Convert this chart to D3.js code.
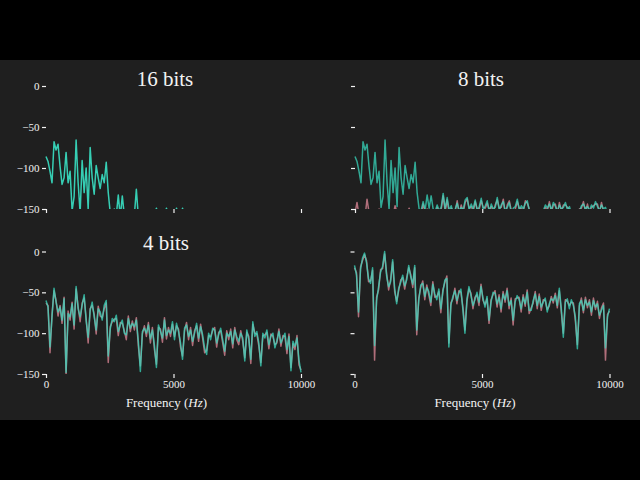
<!DOCTYPE html>
<html><head><meta charset="utf-8">
<script src="https://cdn.jsdelivr.net/npm/d3@7"></script>
<style>html,body{margin:0;background:#000;} svg{display:block}</style>
</head><body>
<script>
// ---- data ----
const maxFreq = 10000;
const binCount = 128;
const xTicks = [0, 5000, 10000];
const yTicks = [0, -50, -100, -150];
const panelTitles = ["16 bits", "8 bits", "4 bits", ""];
const axisLabel = "Frequency";
const axisUnit = "Hz";

const teal16 = [
-86,-92,-104,-118,-68,-78,-71,-98,-120,-112,-81,-118,-104,-152,-135,-66,
-118,-155,-91,-130,-100,-150,-75,-112,-132,-97,-112,-125,-108,-118,-93,-130,
-155,-160,-150,-158,-133,-160,-134,-158,-165,-160,-170,-160,-158,-126,-160,-165,
-170,-168,-172,-165,-170,-160,-158,-149,-162,-170,-165,-160,-149,-162,-166,-170,
-164,-149,-160,-166,-149,-162,-170,-175,-168,-172,-170,-175,-168,-172,-176,-170,
-172,-175,-170,-178,-174,-170,-176,-172,-178,-175,-180,-174,-176,-178,-172,-176,
-178,-174,-180,-176,-172,-178,-175,-180,-176,-178,-174,-180,-176,-182,-178,-175,
-180,-176,-182,-178,-175,-180,-178,-182,-176,-180,-178,-184,-180,-178,-182,-180];

const teal8 = [
-86,-92,-104,-118,-68,-78,-71,-98,-120,-112,-81,-118,-104,-148,-135,-66,
-118,-150,-91,-130,-100,-147,-75,-112,-132,-97,-112,-125,-108,-118,-93,-130,
-150,-152,-141,-151,-133,-149,-134,-150,-153,-145,-152,-148,-131,-150,-136,-152,
-146,-155,-150,-143,-153,-148,-151,-139,-136,-152,-144,-150,-139,-153,-147,-137,
-151,-146,-140,-154,-144,-150,-148,-136,-152,-145,-141,-153,-148,-142,-155,-149,
-147,-138,-152,-146,-150,-143,-140,-153,-156,-158,-155,-160,-157,-155,-152,-145,
-149,-144,-151,-142,-147,-153,-145,-150,-148,-142,-151,-147,-156,-158,-155,-157,
-153,-146,-144,-150,-147,-152,-145,-149,-141,-147,-152,-145,-150,-148,-156,-158];

const pink8 = [
-155,-142,-158,-152,-156,-160,-138,-154,-158,-152,-160,-155,-150,-157,-153,-158,
-154,-160,-152,-158,-146,-155,-160,-152,-157,-154,-160,-149,-156,-152,-158,-155,
-152,-157,-144,-154,-150,-152,-156,-153,-157,-148,-155,-151,-134,-153,-139,-155,
-149,-152,-153,-140,-156,-145,-154,-142,-138,-149,-147,-153,-141,-150,-150,-140,
-148,-149,-143,-151,-147,-153,-145,-139,-149,-148,-138,-156,-145,-140,-152,-152,
-150,-141,-149,-149,-153,-140,-143,-150,-159,-155,-158,-157,-160,-152,-155,-148,
-152,-141,-154,-145,-144,-156,-142,-153,-145,-145,-148,-150,-153,-161,-152,-160,
-150,-149,-141,-153,-144,-155,-148,-146,-144,-144,-155,-142,-153,-151,-153,-161];

const teal4 = [
-60,-68,-117,-80,-45,-62,-74,-68,-84,-58,-148,-76,-80,-64,-90,-43,
-70,-80,-66,-53,-85,-105,-72,-62,-80,-96,-70,-74,-84,-66,-60,-128,
-95,-82,-86,-78,-98,-90,-84,-100,-102,-82,-94,-88,-92,-84,-110,-147,
-98,-94,-100,-90,-107,-96,-115,-142,-90,-98,-106,-84,-103,-96,-100,-86,
-108,-88,-98,-112,-132,-94,-90,-104,-96,-110,-100,-88,-106,-92,-102,-118,
-126,-100,-108,-94,-96,-112,-102,-94,-108,-122,-100,-104,-98,-113,-96,-104,
-110,-100,-106,-134,-96,-108,-132,-86,-104,-98,-112,-140,-100,-106,-96,-114,
-104,-100,-118,-109,-98,-112,-106,-100,-120,-104,-146,-110,-116,-106,-133,-148];

const pink4 = [
-63,-66,-124,-77,-48,-60,-79,-66,-88,-56,-150,-73,-84,-62,-95,-46,
-68,-86,-63,-57,-82,-112,-70,-66,-77,-101,-67,-79,-81,-70,-63,-136,
-92,-86,-83,-82,-103,-87,-88,-97,-108,-79,-98,-85,-96,-81,-116,-140,
-101,-91,-104,-87,-112,-93,-120,-138,-93,-95,-111,-81,-107,-93,-104,-89,
-104,-91,-95,-117,-128,-97,-87,-108,-93,-115,-97,-91,-110,-89,-106,-124,
-121,-103,-104,-97,-93,-117,-99,-97,-112,-127,-97,-108,-95,-118,-93,-108,
-114,-97,-110,-130,-99,-104,-137,-89,-100,-101,-116,-136,-103,-102,-99,-119,
-101,-104,-114,-112,-95,-116,-103,-104,-125,-101,-142,-113,-120,-103,-139,-145];

const teal2 = [
-17,-29,-74,-22,-8,-2,-14,-33,-39,-20,-115,-60,-43,-25,-18,0,
-30,-43,-37,-10,-45,-64,-45,-38,-29,-42,-35,-17,-31,-40,-17,-96,
-60,-41,-39,-55,-44,-49,-62,-40,-52,-59,-46,-70,-50,-35,-33,-117,
-66,-55,-48,-60,-51,-46,-72,-100,-58,-43,-54,-66,-59,-50,-62,-43,
-57,-68,-55,-84,-62,-50,-51,-64,-56,-70,-52,-59,-48,-66,-60,-84,
-62,-54,-59,-70,-56,-64,-50,-72,-72,-60,-52,-66,-55,-68,-62,-57,
-74,-64,-58,-60,-54,-66,-45,-70,-105,-62,-58,-70,-59,-66,-80,-119,
-64,-60,-72,-59,-66,-62,-74,-60,-68,-64,-78,-72,-66,-118,-80,-70];

const pink2 = [
-20,-26,-80,-19,-11,-4,-11,-37,-36,-23,-133,-56,-47,-22,-21,-3,
-27,-47,-34,-13,-49,-61,-48,-35,-32,-46,-32,-20,-28,-44,-20,-102,
-57,-44,-36,-59,-41,-53,-66,-37,-56,-55,-49,-75,-47,-38,-30,-112,
-63,-58,-45,-64,-48,-50,-68,-96,-61,-46,-51,-70,-56,-53,-66,-40,
-60,-65,-58,-88,-59,-53,-48,-68,-53,-74,-49,-62,-45,-70,-57,-90,
-58,-57,-56,-74,-53,-67,-47,-76,-69,-63,-49,-70,-52,-72,-59,-60,
-71,-67,-55,-63,-51,-69,-48,-74,-100,-59,-61,-66,-62,-63,-85,-114,
-67,-57,-75,-56,-69,-59,-78,-57,-71,-61,-82,-69,-63,-133,-77,-73];

// ---- drawing ----
const W = 640, H = 480;
const TEAL = "#38d8bd", PINK = "#b06e7a", TXT = "#f2f2f2", BG = "#1f1f1f";
const FONT = "'Liberation Serif','Times New Roman',serif";

const svg = d3.select("body").append("svg").attr("width", W).attr("height", H);
svg.append("rect").attr("width", W).attr("height", H).attr("fill", "#000");
svg.append("rect").attr("x", 0).attr("y", 60).attr("width", W).attr("height", 360).attr("fill", BG);

const panels = [
  {title: panelTitles[0], teal: teal16, pink: null,  x0: 46,  x1: 301, yTop: 86,    yBot: 209, yLab: true,  xLab: false, tx: 165, ty: 86},
  {title: panelTitles[1], teal: teal8,  pink: pink8, x0: 355, x1: 609.5, yTop: 86,  yBot: 209, yLab: false, xLab: false, tx: 481, ty: 86},
  {title: panelTitles[2], teal: teal4,  pink: pink4, x0: 46,  x1: 301, yTop: 251.5, yBot: 374, yLab: true,  xLab: true,  tx: 166, ty: 250},
  {title: panelTitles[3], teal: teal2,  pink: pink2, x0: 354.5, x1: 609.5, yTop: 251.5, yBot: 374, yLab: false, xLab: true, tx: 481, ty: 250}
];

const fmt = d => (d < 0 ? "\u2212" + Math.abs(d) : String(d));

panels.forEach((p, k) => {
  const x = d3.scaleLinear().domain([0, maxFreq]).range([p.x0, p.x1]);
  const y = d3.scaleLinear().domain([0, -150]).range([p.yTop, p.yBot]);
  const g = svg.append("g");
  const clipId = "clip" + k;
  svg.append("clipPath").attr("id", clipId).append("rect")
    .attr("x", p.x0 - 2).attr("y", p.yTop - 30)
    .attr("width", p.x1 - p.x0 + 4).attr("height", p.yBot - p.yTop + 30);

  const line = d3.line().x((d, i) => x(i * maxFreq / (binCount - 1))).y(d => y(d));
  const lg = g.append("g").attr("clip-path", `url(#${clipId})`);
  if (p.pink) lg.append("path").datum(p.pink).attr("d", line)
      .attr("fill", "none").attr("stroke", PINK).attr("stroke-width", 1.5).attr("stroke-linejoin", "round");
  lg.append("path").datum(p.teal).attr("d", line)
      .attr("fill", "none").attr("stroke", TEAL).attr("stroke-opacity", p.pink ? 0.75 : 0.95)
      .attr("stroke-width", 1.5).attr("stroke-linejoin", "round");

  const ya = g.append("g").attr("transform", `translate(${p.x0},0)`)
    .call(d3.axisLeft(y).tickValues(yTicks).tickSize(4).tickPadding(2.5)
      .tickFormat(p.yLab ? fmt : () => ""));
  const xa = g.append("g").attr("transform", `translate(0,${p.yBot})`)
    .call(d3.axisBottom(x).tickValues(xTicks).tickSize(4).tickPadding(2)
      .tickFormat(p.xLab ? d3.format("d") : () => ""));
  [ya, xa].forEach(a => {
    a.select(".domain").remove();
    a.selectAll("line").attr("stroke", TXT).attr("stroke-width", 1.2);
    a.selectAll("text").attr("fill", TXT).attr("font-family", FONT).attr("font-size", 11);
  });

  if (p.title) {
    svg.append("text").attr("x", p.tx).attr("y", p.ty).attr("text-anchor", "middle")
      .attr("fill", TXT).attr("font-family", FONT).attr("font-size", 21).text(p.title);
  }
  if (p.xLab) {
    const t = svg.append("text").attr("x", (p.x0 + p.x1) / 2 - 7).attr("y", 407)
      .attr("text-anchor", "middle").attr("fill", TXT).attr("font-family", FONT).attr("font-size", 13);
    t.append("tspan").text(axisLabel + " (");
    t.append("tspan").attr("font-style", "italic").text(axisUnit);
    t.append("tspan").text(")");
  }
});
</script>
</body></html>
